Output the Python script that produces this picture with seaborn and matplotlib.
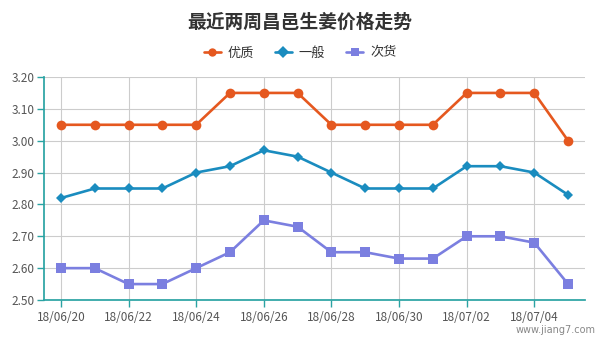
import matplotlib
matplotlib.use("Agg")
import matplotlib.pyplot as plt
import seaborn as sns
import pandas as pd

dates = ["18/06/20", "18/06/21", "18/06/22", "18/06/23", "18/06/24", "18/06/25",
         "18/06/26", "18/06/27", "18/06/28", "18/06/29", "18/06/30", "18/07/01",
         "18/07/02", "18/07/03", "18/07/04", "18/07/05"]
premium = [3.05, 3.05, 3.05, 3.05, 3.05, 3.15, 3.15, 3.15, 3.05, 3.05, 3.05, 3.05,
           3.15, 3.15, 3.15, 3.00]
normal = [2.82, 2.85, 2.85, 2.85, 2.90, 2.92, 2.97, 2.95, 2.90, 2.85, 2.85, 2.85,
          2.92, 2.92, 2.90, 2.83]
inferior = [2.60, 2.60, 2.55, 2.55, 2.60, 2.65, 2.75, 2.73, 2.65, 2.65, 2.63, 2.63,
            2.70, 2.70, 2.68, 2.55]
series_names = ["优质", "一般", "次货"]
yticks = [2.50, 2.60, 2.70, 2.80, 2.90, 3.00, 3.10, 3.20]

sns.set_theme(style="white")
plt.rcParams['font.family'] = ['Noto Sans CJK SC', 'DejaVu Sans']

rows = []
for name, vals in zip(series_names, [premium, normal, inferior]):
    for i, v in enumerate(vals):
        rows.append({"idx": i, "price": v, "series": name})
df = pd.DataFrame(rows)

colors = {"优质": "#E5581F", "一般": "#1A8CBF", "次货": "#7B7FE0"}
markers = {"优质": "o", "一般": "D", "次货": "s"}
sizes_m = {"优质": 7, "一般": 5, "次货": 7}

fig = plt.figure(figsize=(6, 3.4), dpi=100)
ax = fig.add_axes([44/600, 40/340, (585-44)/600, (300-77)/340])

sns.lineplot(data=df, x="idx", y="price", hue="series", style="series",
             palette=colors, markers=markers, dashes=False, linewidth=1.9,
             markeredgewidth=0, ax=ax)
for line, name in zip(ax.lines, series_names):
    line.set_markersize(sizes_m[name])

ax.set_xlim(-0.5, 15.5)
ax.set_ylim(2.50, 3.20)
ax.set_yticks(yticks)
ax.set_yticklabels([f"{v:.2f}" for v in yticks])
xt = list(range(0, 16, 2))
ax.set_xticks(xt)
ax.set_xticklabels([dates[i] for i in xt])
ax.set_xlabel("")
ax.set_ylabel("")

ax.grid(True, color="#CCCCCC", linewidth=0.8)
ax.set_axisbelow(True)
teal = "#2AA3A3"
for s in ["top", "right"]:
    ax.spines[s].set_visible(False)
ax.spines["left"].set_color(teal)
ax.spines["bottom"].set_color(teal)
ax.tick_params(axis="both", colors=teal, length=5, width=1, labelsize=8.5,
               labelcolor="#555555", direction="out")
ax.tick_params(axis="x", pad=3)
ax.tick_params(axis="y", pad=2)
ax.xaxis.set_ticks_position("bottom")
ax.yaxis.set_ticks_position("left")

handles, labels = ax.get_legend_handles_labels()
for h in handles:
    h.set_markersize(6)
ax.legend_.remove()
fig.legend(handles, labels, loc="center", bbox_to_anchor=(0.5, 1 - 53/340), ncol=3,
           frameon=False, fontsize=9.5, handlelength=1.3, columnspacing=1.6,
           handletextpad=0.5, labelcolor="#333333")

fig.text(0.5, 1 - 22/340, "最近两周昌邑生姜价格走势", ha="center", va="center",
         fontsize=13.5, fontweight="bold", color="#333333")
fig.text(0.993, 1 - 330/340, "www.jiang7.com", ha="right", va="center",
         fontsize=7, color="#888888", family="DejaVu Sans")

fig.savefig("out.png", dpi=100)
